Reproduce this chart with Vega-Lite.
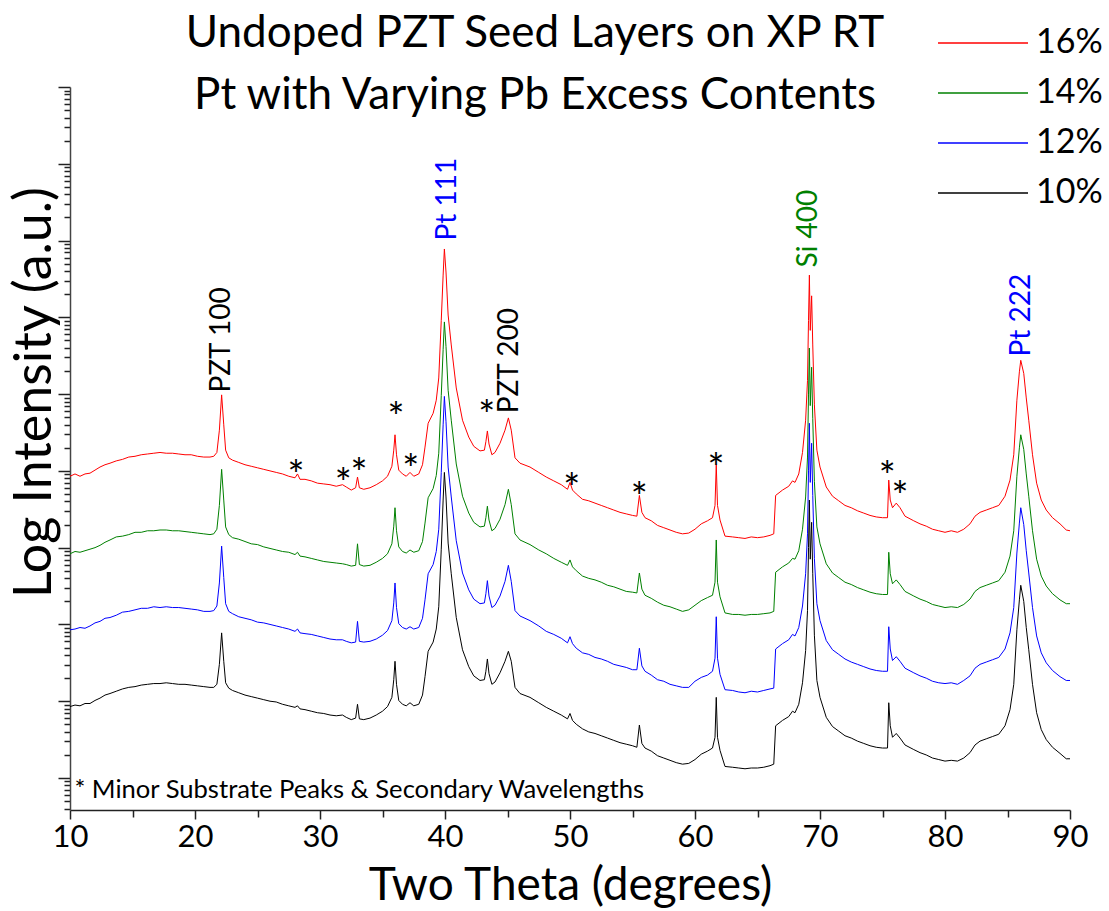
{
"$schema":"https://vega.github.io/schema/vega-lite/v6.json",
"autosize":{"type":"none"},
"padding":{"left":70,"top":87,"right":39,"bottom":101},
"width":1000,"height":723,
"background":"white",
"config":{"font":"Lato","view":{"stroke":null},"axis":{"grid":false,"labelColor":"black","titleColor":"black","titleFontWeight":"normal"}},
"title":{"text":["Undoped PZT Seed Layers on XP RT","Pt with Varying Pb Excess Contents"],"frame":"group","anchor":"middle","dx":-35,"offset":-106,"fontSize":44,"fontWeight":"normal","font":"Lato","color":"black","lineHeight":62},
"datasets":{
"peaks":[
{"label":"PZT 100","phase":"PZT","angle":22.13,"logI":6.02},
{"label":"Pt 111","phase":"Pt","angle":40.2,"logI":8.0},
{"label":"PZT 200","phase":"PZT","angle":45.2,"logI":5.75},
{"label":"Si 400","phase":"Si","angle":69.1,"logI":7.65},
{"label":"Pt 222","phase":"Pt","angle":86.13,"logI":6.49}],
"stars":[
{"label":"*","angle":28.08,"logI":5.05},
{"label":"*","angle":31.86,"logI":4.95},
{"label":"*","angle":33.12,"logI":5.08},
{"label":"*","angle":36.08,"logI":5.8},
{"label":"*","angle":37.26,"logI":5.13},
{"label":"*","angle":43.34,"logI":5.83},
{"label":"*","angle":50.14,"logI":4.88},
{"label":"*","angle":55.54,"logI":4.77},
{"label":"*","angle":61.68,"logI":5.14},
{"label":"*","angle":75.38,"logI":5.04},
{"label":"*","angle":76.4,"logI":4.78}],
"note":[{"label":"* Minor Substrate Peaks & Secondary Wavelengths","angle":10.35,"logI":0.85}],
"xrd":[
{"series":"16%","angle":10,"logI":4.93},{"series":"16%","angle":10.4,"logI":4.96},{"series":"16%","angle":10.8,"logI":4.93},{"series":"16%","angle":11.2,"logI":4.96},{"series":"16%","angle":11.6,"logI":4.97},{"series":"16%","angle":12,"logI":5.01},{"series":"16%","angle":12.4,"logI":5.05},{"series":"16%","angle":12.8,"logI":5.08},{"series":"16%","angle":13.2,"logI":5.1},{"series":"16%","angle":13.7,"logI":5.13},{"series":"16%","angle":14.2,"logI":5.15},{"series":"16%","angle":14.7,"logI":5.18},{"series":"16%","angle":15.2,"logI":5.19},{"series":"16%","angle":15.7,"logI":5.21},{"series":"16%","angle":16.2,"logI":5.22},{"series":"16%","angle":16.7,"logI":5.23},{"series":"16%","angle":17.2,"logI":5.24},{"series":"16%","angle":17.7,"logI":5.23},{"series":"16%","angle":18.2,"logI":5.23},{"series":"16%","angle":18.7,"logI":5.22},{"series":"16%","angle":19.2,"logI":5.21},{"series":"16%","angle":19.7,"logI":5.21},{"series":"16%","angle":20.2,"logI":5.19},{"series":"16%","angle":20.7,"logI":5.18},{"series":"16%","angle":21.2,"logI":5.18},{"series":"16%","angle":21.5,"logI":5.19},{"series":"16%","angle":21.75,"logI":5.24},{"series":"16%","angle":21.95,"logI":5.53},{"series":"16%","angle":22.13,"logI":5.99},{"series":"16%","angle":22.3,"logI":5.6},{"series":"16%","angle":22.45,"logI":5.27},{"series":"16%","angle":22.7,"logI":5.17},{"series":"16%","angle":23,"logI":5.14},{"series":"16%","angle":23.5,"logI":5.11},{"series":"16%","angle":24,"logI":5.08},{"series":"16%","angle":24.5,"logI":5.06},{"series":"16%","angle":25,"logI":5.04},{"series":"16%","angle":25.5,"logI":5.02},{"series":"16%","angle":26,"logI":5.0},{"series":"16%","angle":26.5,"logI":4.98},{"series":"16%","angle":27,"logI":4.96},{"series":"16%","angle":27.5,"logI":4.93},{"series":"16%","angle":28,"logI":4.91},{"series":"16%","angle":28.2,"logI":4.96},{"series":"16%","angle":28.4,"logI":4.89},{"series":"16%","angle":28.8,"logI":4.89},{"series":"16%","angle":29.3,"logI":4.87},{"series":"16%","angle":29.8,"logI":4.84},{"series":"16%","angle":30.3,"logI":4.83},{"series":"16%","angle":30.8,"logI":4.82},{"series":"16%","angle":31.3,"logI":4.8},{"series":"16%","angle":31.8,"logI":4.82},{"series":"16%","angle":32.1,"logI":4.79},{"series":"16%","angle":32.5,"logI":4.75},{"series":"16%","angle":32.85,"logI":4.78},{"series":"16%","angle":33,"logI":4.92},{"series":"16%","angle":33.15,"logI":4.78},{"series":"16%","angle":33.5,"logI":4.76},{"series":"16%","angle":34,"logI":4.78},{"series":"16%","angle":34.5,"logI":4.82},{"series":"16%","angle":35,"logI":4.87},{"series":"16%","angle":35.4,"logI":4.93},{"series":"16%","angle":35.75,"logI":5.06},{"series":"16%","angle":35.9,"logI":5.27},{"series":"16%","angle":36,"logI":5.47},{"series":"16%","angle":36.12,"logI":5.21},{"series":"16%","angle":36.3,"logI":5.01},{"series":"16%","angle":36.6,"logI":4.96},{"series":"16%","angle":36.9,"logI":4.93},{"series":"16%","angle":37.2,"logI":4.98},{"series":"16%","angle":37.5,"logI":4.93},{"series":"16%","angle":37.9,"logI":4.96},{"series":"16%","angle":38.2,"logI":5.08},{"series":"16%","angle":38.4,"logI":5.31},{"series":"16%","angle":38.65,"logI":5.62},{"series":"16%","angle":39.05,"logI":5.75},{"series":"16%","angle":39.3,"logI":5.92},{"series":"16%","angle":39.5,"logI":6.21},{"series":"16%","angle":39.7,"logI":6.96},{"series":"16%","angle":39.85,"logI":7.55},{"series":"16%","angle":39.95,"logI":7.89},{"series":"16%","angle":40.08,"logI":7.59},{"series":"16%","angle":40.25,"logI":7.03},{"series":"16%","angle":40.5,"logI":6.64},{"series":"16%","angle":40.9,"logI":6.08},{"series":"16%","angle":41.4,"logI":5.66},{"series":"16%","angle":41.9,"logI":5.44},{"series":"16%","angle":42.3,"logI":5.32},{"series":"16%","angle":42.8,"logI":5.26},{"series":"16%","angle":43.15,"logI":5.27},{"series":"16%","angle":43.27,"logI":5.38},{"series":"16%","angle":43.39,"logI":5.52},{"series":"16%","angle":43.52,"logI":5.35},{"series":"16%","angle":43.75,"logI":5.21},{"series":"16%","angle":44,"logI":5.24},{"series":"16%","angle":44.4,"logI":5.36},{"series":"16%","angle":44.8,"logI":5.53},{"series":"16%","angle":45.07,"logI":5.69},{"series":"16%","angle":45.3,"logI":5.53},{"series":"16%","angle":45.6,"logI":5.17},{"series":"16%","angle":46,"logI":5.1},{"series":"16%","angle":46.8,"logI":5.05},{"series":"16%","angle":47.5,"logI":4.98},{"series":"16%","angle":48.1,"logI":4.92},{"series":"16%","angle":48.7,"logI":4.87},{"series":"16%","angle":49.3,"logI":4.82},{"series":"16%","angle":49.8,"logI":4.76},{"series":"16%","angle":50,"logI":4.85},{"series":"16%","angle":50.2,"logI":4.75},{"series":"16%","angle":50.5,"logI":4.7},{"series":"16%","angle":51,"logI":4.63},{"series":"16%","angle":51.5,"logI":4.61},{"series":"16%","angle":52,"logI":4.58},{"series":"16%","angle":52.5,"logI":4.55},{"series":"16%","angle":53,"logI":4.52},{"series":"16%","angle":53.5,"logI":4.49},{"series":"16%","angle":54,"logI":4.46},{"series":"16%","angle":54.5,"logI":4.44},{"series":"16%","angle":55,"logI":4.42},{"series":"16%","angle":55.35,"logI":4.41},{"series":"16%","angle":55.55,"logI":4.68},{"series":"16%","angle":55.75,"logI":4.46},{"series":"16%","angle":56,"logI":4.39},{"series":"16%","angle":56.5,"logI":4.35},{"series":"16%","angle":57,"logI":4.29},{"series":"16%","angle":57.5,"logI":4.26},{"series":"16%","angle":58,"logI":4.23},{"series":"16%","angle":58.5,"logI":4.2},{"series":"16%","angle":59,"logI":4.18},{"series":"16%","angle":59.5,"logI":4.19},{"series":"16%","angle":60,"logI":4.24},{"series":"16%","angle":60.5,"logI":4.31},{"series":"16%","angle":61,"logI":4.35},{"series":"16%","angle":61.4,"logI":4.39},{"series":"16%","angle":61.6,"logI":4.55},{"series":"16%","angle":61.7,"logI":5.08},{"series":"16%","angle":61.8,"logI":4.55},{"series":"16%","angle":62,"logI":4.36},{"series":"16%","angle":62.4,"logI":4.15},{"series":"16%","angle":63,"logI":4.14},{"series":"16%","angle":63.5,"logI":4.13},{"series":"16%","angle":64,"logI":4.12},{"series":"16%","angle":64.5,"logI":4.14},{"series":"16%","angle":65,"logI":4.13},{"series":"16%","angle":65.5,"logI":4.14},{"series":"16%","angle":66,"logI":4.16},{"series":"16%","angle":66.3,"logI":4.18},{"series":"16%","angle":66.45,"logI":4.68},{"series":"16%","angle":67,"logI":4.75},{"series":"16%","angle":67.5,"logI":4.8},{"series":"16%","angle":67.8,"logI":4.87},{"series":"16%","angle":68,"logI":4.85},{"series":"16%","angle":68.3,"logI":4.96},{"series":"16%","angle":68.6,"logI":5.24},{"series":"16%","angle":68.85,"logI":5.66},{"series":"16%","angle":69,"logI":6.18},{"series":"16%","angle":69.08,"logI":6.96},{"series":"16%","angle":69.15,"logI":7.55},{"series":"16%","angle":69.22,"logI":6.83},{"series":"16%","angle":69.33,"logI":7.28},{"series":"16%","angle":69.42,"logI":6.64},{"series":"16%","angle":69.55,"logI":5.86},{"series":"16%","angle":69.75,"logI":5.27},{"series":"16%","angle":70,"logI":5.05},{"series":"16%","angle":70.5,"logI":4.79},{"series":"16%","angle":71,"logI":4.67},{"series":"16%","angle":71.5,"logI":4.61},{"series":"16%","angle":72,"logI":4.55},{"series":"16%","angle":72.5,"logI":4.52},{"series":"16%","angle":73,"logI":4.48},{"series":"16%","angle":73.5,"logI":4.45},{"series":"16%","angle":74,"logI":4.42},{"series":"16%","angle":74.5,"logI":4.4},{"series":"16%","angle":75,"logI":4.39},{"series":"16%","angle":75.4,"logI":4.39},{"series":"16%","angle":75.5,"logI":4.88},{"series":"16%","angle":75.62,"logI":4.62},{"series":"16%","angle":75.8,"logI":4.52},{"series":"16%","angle":76.1,"logI":4.58},{"series":"16%","angle":76.4,"logI":4.52},{"series":"16%","angle":76.8,"logI":4.41},{"series":"16%","angle":77.5,"logI":4.35},{"series":"16%","angle":78,"logI":4.31},{"series":"16%","angle":78.5,"logI":4.28},{"series":"16%","angle":79,"logI":4.24},{"series":"16%","angle":79.5,"logI":4.22},{"series":"16%","angle":80,"logI":4.2},{"series":"16%","angle":80.5,"logI":4.22},{"series":"16%","angle":81,"logI":4.2},{"series":"16%","angle":81.5,"logI":4.24},{"series":"16%","angle":82,"logI":4.31},{"series":"16%","angle":82.4,"logI":4.41},{"series":"16%","angle":82.8,"logI":4.46},{"series":"16%","angle":83.3,"logI":4.49},{"series":"16%","angle":83.8,"logI":4.52},{"series":"16%","angle":84.3,"logI":4.55},{"series":"16%","angle":84.8,"logI":4.67},{"series":"16%","angle":85.2,"logI":4.88},{"series":"16%","angle":85.5,"logI":5.21},{"series":"16%","angle":85.75,"logI":5.92},{"series":"16%","angle":85.95,"logI":6.29},{"series":"16%","angle":86.06,"logI":6.44},{"series":"16%","angle":86.3,"logI":6.27},{"series":"16%","angle":86.5,"logI":5.95},{"series":"16%","angle":86.7,"logI":5.66},{"series":"16%","angle":87,"logI":5.21},{"series":"16%","angle":87.33,"logI":4.84},{"series":"16%","angle":87.7,"logI":4.62},{"series":"16%","angle":88.1,"logI":4.49},{"series":"16%","angle":88.6,"logI":4.39},{"series":"16%","angle":89.2,"logI":4.31},{"series":"16%","angle":89.7,"logI":4.23},{"series":"16%","angle":90,"logI":4.22},
{"series":"14%","angle":10,"logI":3.92},{"series":"14%","angle":10.4,"logI":3.95},{"series":"14%","angle":10.8,"logI":3.94},{"series":"14%","angle":11.2,"logI":3.96},{"series":"14%","angle":11.6,"logI":3.98},{"series":"14%","angle":12,"logI":4.0},{"series":"14%","angle":12.4,"logI":4.03},{"series":"14%","angle":12.8,"logI":4.07},{"series":"14%","angle":13.2,"logI":4.1},{"series":"14%","angle":13.7,"logI":4.14},{"series":"14%","angle":14.2,"logI":4.15},{"series":"14%","angle":14.7,"logI":4.17},{"series":"14%","angle":15.2,"logI":4.2},{"series":"14%","angle":15.7,"logI":4.2},{"series":"14%","angle":16.2,"logI":4.22},{"series":"14%","angle":16.7,"logI":4.22},{"series":"14%","angle":17.2,"logI":4.23},{"series":"14%","angle":17.7,"logI":4.23},{"series":"14%","angle":18.2,"logI":4.22},{"series":"14%","angle":18.7,"logI":4.22},{"series":"14%","angle":19.2,"logI":4.21},{"series":"14%","angle":19.7,"logI":4.2},{"series":"14%","angle":20.2,"logI":4.19},{"series":"14%","angle":20.7,"logI":4.18},{"series":"14%","angle":21.2,"logI":4.17},{"series":"14%","angle":21.5,"logI":4.18},{"series":"14%","angle":21.75,"logI":4.24},{"series":"14%","angle":21.95,"logI":4.55},{"series":"14%","angle":22.13,"logI":5.02},{"series":"14%","angle":22.3,"logI":4.62},{"series":"14%","angle":22.45,"logI":4.27},{"series":"14%","angle":22.7,"logI":4.17},{"series":"14%","angle":23,"logI":4.13},{"series":"14%","angle":23.5,"logI":4.11},{"series":"14%","angle":24,"logI":4.08},{"series":"14%","angle":24.5,"logI":4.05},{"series":"14%","angle":25,"logI":4.04},{"series":"14%","angle":25.5,"logI":4.01},{"series":"14%","angle":26,"logI":3.99},{"series":"14%","angle":26.5,"logI":3.97},{"series":"14%","angle":27,"logI":3.95},{"series":"14%","angle":27.5,"logI":3.94},{"series":"14%","angle":28,"logI":3.91},{"series":"14%","angle":28.2,"logI":3.94},{"series":"14%","angle":28.4,"logI":3.89},{"series":"14%","angle":28.8,"logI":3.88},{"series":"14%","angle":29.3,"logI":3.86},{"series":"14%","angle":29.8,"logI":3.84},{"series":"14%","angle":30.3,"logI":3.82},{"series":"14%","angle":30.8,"logI":3.81},{"series":"14%","angle":31.3,"logI":3.8},{"series":"14%","angle":31.8,"logI":3.79},{"series":"14%","angle":32.1,"logI":3.78},{"series":"14%","angle":32.5,"logI":3.76},{"series":"14%","angle":32.85,"logI":3.77},{"series":"14%","angle":33,"logI":4.05},{"series":"14%","angle":33.15,"logI":3.78},{"series":"14%","angle":33.5,"logI":3.76},{"series":"14%","angle":34,"logI":3.77},{"series":"14%","angle":34.5,"logI":3.81},{"series":"14%","angle":35,"logI":3.86},{"series":"14%","angle":35.4,"logI":3.92},{"series":"14%","angle":35.75,"logI":4.05},{"series":"14%","angle":35.9,"logI":4.28},{"series":"14%","angle":36,"logI":4.52},{"series":"14%","angle":36.12,"logI":4.22},{"series":"14%","angle":36.3,"logI":4.01},{"series":"14%","angle":36.6,"logI":3.95},{"series":"14%","angle":36.9,"logI":3.93},{"series":"14%","angle":37.2,"logI":3.97},{"series":"14%","angle":37.5,"logI":3.94},{"series":"14%","angle":37.9,"logI":3.96},{"series":"14%","angle":38.2,"logI":4.08},{"series":"14%","angle":38.4,"logI":4.32},{"series":"14%","angle":38.65,"logI":4.65},{"series":"14%","angle":39.05,"logI":4.77},{"series":"14%","angle":39.3,"logI":4.94},{"series":"14%","angle":39.5,"logI":5.23},{"series":"14%","angle":39.7,"logI":5.98},{"series":"14%","angle":39.85,"logI":6.58},{"series":"14%","angle":39.95,"logI":6.94},{"series":"14%","angle":40.08,"logI":6.62},{"series":"14%","angle":40.25,"logI":6.05},{"series":"14%","angle":40.5,"logI":5.66},{"series":"14%","angle":40.9,"logI":5.09},{"series":"14%","angle":41.4,"logI":4.67},{"series":"14%","angle":41.9,"logI":4.45},{"series":"14%","angle":42.3,"logI":4.33},{"series":"14%","angle":42.8,"logI":4.27},{"series":"14%","angle":43.15,"logI":4.28},{"series":"14%","angle":43.27,"logI":4.39},{"series":"14%","angle":43.39,"logI":4.54},{"series":"14%","angle":43.52,"logI":4.36},{"series":"14%","angle":43.75,"logI":4.22},{"series":"14%","angle":44,"logI":4.25},{"series":"14%","angle":44.4,"logI":4.37},{"series":"14%","angle":44.8,"logI":4.56},{"series":"14%","angle":45.07,"logI":4.76},{"series":"14%","angle":45.3,"logI":4.56},{"series":"14%","angle":45.6,"logI":4.18},{"series":"14%","angle":46,"logI":4.1},{"series":"14%","angle":46.8,"logI":4.04},{"series":"14%","angle":47.5,"logI":3.97},{"series":"14%","angle":48.1,"logI":3.92},{"series":"14%","angle":48.7,"logI":3.86},{"series":"14%","angle":49.3,"logI":3.81},{"series":"14%","angle":49.8,"logI":3.77},{"series":"14%","angle":50,"logI":3.84},{"series":"14%","angle":50.2,"logI":3.75},{"series":"14%","angle":50.5,"logI":3.7},{"series":"14%","angle":51,"logI":3.63},{"series":"14%","angle":51.5,"logI":3.6},{"series":"14%","angle":52,"logI":3.58},{"series":"14%","angle":52.5,"logI":3.55},{"series":"14%","angle":53,"logI":3.51},{"series":"14%","angle":53.5,"logI":3.49},{"series":"14%","angle":54,"logI":3.46},{"series":"14%","angle":54.5,"logI":3.43},{"series":"14%","angle":55,"logI":3.42},{"series":"14%","angle":55.35,"logI":3.41},{"series":"14%","angle":55.55,"logI":3.67},{"series":"14%","angle":55.75,"logI":3.46},{"series":"14%","angle":56,"logI":3.38},{"series":"14%","angle":56.5,"logI":3.34},{"series":"14%","angle":57,"logI":3.29},{"series":"14%","angle":57.5,"logI":3.25},{"series":"14%","angle":58,"logI":3.23},{"series":"14%","angle":58.5,"logI":3.2},{"series":"14%","angle":59,"logI":3.17},{"series":"14%","angle":59.5,"logI":3.19},{"series":"14%","angle":60,"logI":3.25},{"series":"14%","angle":60.5,"logI":3.31},{"series":"14%","angle":61,"logI":3.35},{"series":"14%","angle":61.4,"logI":3.38},{"series":"14%","angle":61.6,"logI":3.55},{"series":"14%","angle":61.7,"logI":4.1},{"series":"14%","angle":61.8,"logI":3.55},{"series":"14%","angle":62,"logI":3.36},{"series":"14%","angle":62.4,"logI":3.15},{"series":"14%","angle":63,"logI":3.13},{"series":"14%","angle":63.5,"logI":3.13},{"series":"14%","angle":64,"logI":3.12},{"series":"14%","angle":64.5,"logI":3.13},{"series":"14%","angle":65,"logI":3.13},{"series":"14%","angle":65.5,"logI":3.14},{"series":"14%","angle":66,"logI":3.15},{"series":"14%","angle":66.3,"logI":3.17},{"series":"14%","angle":66.45,"logI":3.68},{"series":"14%","angle":67,"logI":3.75},{"series":"14%","angle":67.5,"logI":3.8},{"series":"14%","angle":67.8,"logI":3.86},{"series":"14%","angle":68,"logI":3.85},{"series":"14%","angle":68.3,"logI":3.96},{"series":"14%","angle":68.6,"logI":4.24},{"series":"14%","angle":68.85,"logI":4.66},{"series":"14%","angle":69,"logI":5.18},{"series":"14%","angle":69.08,"logI":6.0},{"series":"14%","angle":69.15,"logI":6.6},{"series":"14%","angle":69.22,"logI":5.85},{"series":"14%","angle":69.33,"logI":6.35},{"series":"14%","angle":69.42,"logI":5.68},{"series":"14%","angle":69.55,"logI":4.86},{"series":"14%","angle":69.75,"logI":4.27},{"series":"14%","angle":70,"logI":4.05},{"series":"14%","angle":70.5,"logI":3.79},{"series":"14%","angle":71,"logI":3.67},{"series":"14%","angle":71.5,"logI":3.61},{"series":"14%","angle":72,"logI":3.55},{"series":"14%","angle":72.5,"logI":3.52},{"series":"14%","angle":73,"logI":3.48},{"series":"14%","angle":73.5,"logI":3.45},{"series":"14%","angle":74,"logI":3.42},{"series":"14%","angle":74.5,"logI":3.4},{"series":"14%","angle":75,"logI":3.39},{"series":"14%","angle":75.4,"logI":3.39},{"series":"14%","angle":75.5,"logI":3.94},{"series":"14%","angle":75.62,"logI":3.66},{"series":"14%","angle":75.8,"logI":3.53},{"series":"14%","angle":76.1,"logI":3.58},{"series":"14%","angle":76.4,"logI":3.52},{"series":"14%","angle":76.8,"logI":3.43},{"series":"14%","angle":77.5,"logI":3.37},{"series":"14%","angle":78,"logI":3.33},{"series":"14%","angle":78.5,"logI":3.3},{"series":"14%","angle":79,"logI":3.26},{"series":"14%","angle":79.5,"logI":3.24},{"series":"14%","angle":80,"logI":3.22},{"series":"14%","angle":80.5,"logI":3.23},{"series":"14%","angle":81,"logI":3.22},{"series":"14%","angle":81.5,"logI":3.26},{"series":"14%","angle":82,"logI":3.33},{"series":"14%","angle":82.4,"logI":3.43},{"series":"14%","angle":82.8,"logI":3.48},{"series":"14%","angle":83.3,"logI":3.51},{"series":"14%","angle":83.8,"logI":3.54},{"series":"14%","angle":84.3,"logI":3.57},{"series":"14%","angle":84.8,"logI":3.68},{"series":"14%","angle":85.2,"logI":3.89},{"series":"14%","angle":85.5,"logI":4.22},{"series":"14%","angle":85.75,"logI":4.93},{"series":"14%","angle":85.95,"logI":5.3},{"series":"14%","angle":86.06,"logI":5.47},{"series":"14%","angle":86.3,"logI":5.28},{"series":"14%","angle":86.5,"logI":4.96},{"series":"14%","angle":86.7,"logI":4.67},{"series":"14%","angle":87,"logI":4.22},{"series":"14%","angle":87.33,"logI":3.85},{"series":"14%","angle":87.7,"logI":3.63},{"series":"14%","angle":88.1,"logI":3.5},{"series":"14%","angle":88.6,"logI":3.4},{"series":"14%","angle":89.2,"logI":3.32},{"series":"14%","angle":89.7,"logI":3.27},{"series":"14%","angle":90,"logI":3.27},
{"series":"12%","angle":10,"logI":2.93},{"series":"12%","angle":10.4,"logI":2.94},{"series":"12%","angle":10.8,"logI":2.96},{"series":"12%","angle":11.2,"logI":2.95},{"series":"12%","angle":11.6,"logI":2.98},{"series":"12%","angle":12,"logI":3.02},{"series":"12%","angle":12.4,"logI":3.04},{"series":"12%","angle":12.8,"logI":3.08},{"series":"12%","angle":13.2,"logI":3.09},{"series":"12%","angle":13.7,"logI":3.12},{"series":"12%","angle":14.2,"logI":3.16},{"series":"12%","angle":14.7,"logI":3.17},{"series":"12%","angle":15.2,"logI":3.19},{"series":"12%","angle":15.7,"logI":3.21},{"series":"12%","angle":16.2,"logI":3.21},{"series":"12%","angle":16.7,"logI":3.23},{"series":"12%","angle":17.2,"logI":3.22},{"series":"12%","angle":17.7,"logI":3.23},{"series":"12%","angle":18.2,"logI":3.22},{"series":"12%","angle":18.7,"logI":3.22},{"series":"12%","angle":19.2,"logI":3.21},{"series":"12%","angle":19.7,"logI":3.2},{"series":"12%","angle":20.2,"logI":3.19},{"series":"12%","angle":20.7,"logI":3.17},{"series":"12%","angle":21.2,"logI":3.17},{"series":"12%","angle":21.5,"logI":3.18},{"series":"12%","angle":21.75,"logI":3.24},{"series":"12%","angle":21.95,"logI":3.54},{"series":"12%","angle":22.13,"logI":4.02},{"series":"12%","angle":22.3,"logI":3.61},{"series":"12%","angle":22.45,"logI":3.27},{"series":"12%","angle":22.7,"logI":3.17},{"series":"12%","angle":23,"logI":3.14},{"series":"12%","angle":23.5,"logI":3.1},{"series":"12%","angle":24,"logI":3.08},{"series":"12%","angle":24.5,"logI":3.06},{"series":"12%","angle":25,"logI":3.03},{"series":"12%","angle":25.5,"logI":3.02},{"series":"12%","angle":26,"logI":3.0},{"series":"12%","angle":26.5,"logI":2.98},{"series":"12%","angle":27,"logI":2.96},{"series":"12%","angle":27.5,"logI":2.94},{"series":"12%","angle":28,"logI":2.91},{"series":"12%","angle":28.2,"logI":2.94},{"series":"12%","angle":28.4,"logI":2.89},{"series":"12%","angle":28.8,"logI":2.88},{"series":"12%","angle":29.3,"logI":2.87},{"series":"12%","angle":29.8,"logI":2.85},{"series":"12%","angle":30.3,"logI":2.83},{"series":"12%","angle":30.8,"logI":2.81},{"series":"12%","angle":31.3,"logI":2.8},{"series":"12%","angle":31.8,"logI":2.8},{"series":"12%","angle":32.1,"logI":2.78},{"series":"12%","angle":32.5,"logI":2.76},{"series":"12%","angle":32.85,"logI":2.77},{"series":"12%","angle":33,"logI":3.04},{"series":"12%","angle":33.15,"logI":2.78},{"series":"12%","angle":33.5,"logI":2.77},{"series":"12%","angle":34,"logI":2.78},{"series":"12%","angle":34.5,"logI":2.81},{"series":"12%","angle":35,"logI":2.86},{"series":"12%","angle":35.4,"logI":2.92},{"series":"12%","angle":35.75,"logI":3.05},{"series":"12%","angle":35.9,"logI":3.28},{"series":"12%","angle":36,"logI":3.54},{"series":"12%","angle":36.12,"logI":3.22},{"series":"12%","angle":36.3,"logI":3.01},{"series":"12%","angle":36.6,"logI":2.96},{"series":"12%","angle":36.9,"logI":2.94},{"series":"12%","angle":37.2,"logI":2.97},{"series":"12%","angle":37.5,"logI":2.94},{"series":"12%","angle":37.9,"logI":2.96},{"series":"12%","angle":38.2,"logI":3.08},{"series":"12%","angle":38.4,"logI":3.32},{"series":"12%","angle":38.65,"logI":3.66},{"series":"12%","angle":39.05,"logI":3.78},{"series":"12%","angle":39.3,"logI":3.95},{"series":"12%","angle":39.5,"logI":4.24},{"series":"12%","angle":39.7,"logI":4.98},{"series":"12%","angle":39.85,"logI":5.6},{"series":"12%","angle":39.95,"logI":5.97},{"series":"12%","angle":40.08,"logI":5.64},{"series":"12%","angle":40.25,"logI":5.05},{"series":"12%","angle":40.5,"logI":4.66},{"series":"12%","angle":40.9,"logI":4.09},{"series":"12%","angle":41.4,"logI":3.67},{"series":"12%","angle":41.9,"logI":3.45},{"series":"12%","angle":42.3,"logI":3.33},{"series":"12%","angle":42.8,"logI":3.27},{"series":"12%","angle":43.15,"logI":3.28},{"series":"12%","angle":43.27,"logI":3.4},{"series":"12%","angle":43.39,"logI":3.57},{"series":"12%","angle":43.52,"logI":3.37},{"series":"12%","angle":43.75,"logI":3.22},{"series":"12%","angle":44,"logI":3.25},{"series":"12%","angle":44.4,"logI":3.37},{"series":"12%","angle":44.8,"logI":3.56},{"series":"12%","angle":45.07,"logI":3.77},{"series":"12%","angle":45.3,"logI":3.56},{"series":"12%","angle":45.6,"logI":3.18},{"series":"12%","angle":46,"logI":3.11},{"series":"12%","angle":46.8,"logI":3.05},{"series":"12%","angle":47.5,"logI":2.98},{"series":"12%","angle":48.1,"logI":2.91},{"series":"12%","angle":48.7,"logI":2.87},{"series":"12%","angle":49.3,"logI":2.82},{"series":"12%","angle":49.8,"logI":2.76},{"series":"12%","angle":50,"logI":2.84},{"series":"12%","angle":50.2,"logI":2.75},{"series":"12%","angle":50.5,"logI":2.69},{"series":"12%","angle":51,"logI":2.63},{"series":"12%","angle":51.5,"logI":2.61},{"series":"12%","angle":52,"logI":2.57},{"series":"12%","angle":52.5,"logI":2.55},{"series":"12%","angle":53,"logI":2.52},{"series":"12%","angle":53.5,"logI":2.48},{"series":"12%","angle":54,"logI":2.46},{"series":"12%","angle":54.5,"logI":2.44},{"series":"12%","angle":55,"logI":2.41},{"series":"12%","angle":55.35,"logI":2.41},{"series":"12%","angle":55.55,"logI":2.69},{"series":"12%","angle":55.75,"logI":2.46},{"series":"12%","angle":56,"logI":2.39},{"series":"12%","angle":56.5,"logI":2.34},{"series":"12%","angle":57,"logI":2.28},{"series":"12%","angle":57.5,"logI":2.26},{"series":"12%","angle":58,"logI":2.22},{"series":"12%","angle":58.5,"logI":2.2},{"series":"12%","angle":59,"logI":2.18},{"series":"12%","angle":59.5,"logI":2.18},{"series":"12%","angle":60,"logI":2.26},{"series":"12%","angle":60.5,"logI":2.31},{"series":"12%","angle":61,"logI":2.34},{"series":"12%","angle":61.4,"logI":2.39},{"series":"12%","angle":61.6,"logI":2.56},{"series":"12%","angle":61.7,"logI":3.1},{"series":"12%","angle":61.8,"logI":2.56},{"series":"12%","angle":62,"logI":2.35},{"series":"12%","angle":62.4,"logI":2.15},{"series":"12%","angle":63,"logI":2.14},{"series":"12%","angle":63.5,"logI":2.12},{"series":"12%","angle":64,"logI":2.11},{"series":"12%","angle":64.5,"logI":2.13},{"series":"12%","angle":65,"logI":2.12},{"series":"12%","angle":65.5,"logI":2.14},{"series":"12%","angle":66,"logI":2.16},{"series":"12%","angle":66.3,"logI":2.17},{"series":"12%","angle":66.45,"logI":2.68},{"series":"12%","angle":67,"logI":2.75},{"series":"12%","angle":67.5,"logI":2.8},{"series":"12%","angle":67.8,"logI":2.87},{"series":"12%","angle":68,"logI":2.85},{"series":"12%","angle":68.3,"logI":2.96},{"series":"12%","angle":68.6,"logI":3.24},{"series":"12%","angle":68.85,"logI":3.66},{"series":"12%","angle":69,"logI":4.18},{"series":"12%","angle":69.08,"logI":5.0},{"series":"12%","angle":69.15,"logI":5.62},{"series":"12%","angle":69.22,"logI":4.85},{"series":"12%","angle":69.33,"logI":5.36},{"series":"12%","angle":69.42,"logI":4.68},{"series":"12%","angle":69.55,"logI":3.86},{"series":"12%","angle":69.75,"logI":3.27},{"series":"12%","angle":70,"logI":3.05},{"series":"12%","angle":70.5,"logI":2.79},{"series":"12%","angle":71,"logI":2.67},{"series":"12%","angle":71.5,"logI":2.61},{"series":"12%","angle":72,"logI":2.55},{"series":"12%","angle":72.5,"logI":2.51},{"series":"12%","angle":73,"logI":2.48},{"series":"12%","angle":73.5,"logI":2.45},{"series":"12%","angle":74,"logI":2.42},{"series":"12%","angle":74.5,"logI":2.4},{"series":"12%","angle":75,"logI":2.39},{"series":"12%","angle":75.4,"logI":2.39},{"series":"12%","angle":75.5,"logI":2.97},{"series":"12%","angle":75.62,"logI":2.68},{"series":"12%","angle":75.8,"logI":2.53},{"series":"12%","angle":76.1,"logI":2.58},{"series":"12%","angle":76.4,"logI":2.52},{"series":"12%","angle":76.8,"logI":2.43},{"series":"12%","angle":77.5,"logI":2.37},{"series":"12%","angle":78,"logI":2.33},{"series":"12%","angle":78.5,"logI":2.3},{"series":"12%","angle":79,"logI":2.26},{"series":"12%","angle":79.5,"logI":2.24},{"series":"12%","angle":80,"logI":2.23},{"series":"12%","angle":80.5,"logI":2.24},{"series":"12%","angle":81,"logI":2.22},{"series":"12%","angle":81.5,"logI":2.27},{"series":"12%","angle":82,"logI":2.33},{"series":"12%","angle":82.4,"logI":2.43},{"series":"12%","angle":82.8,"logI":2.48},{"series":"12%","angle":83.3,"logI":2.51},{"series":"12%","angle":83.8,"logI":2.54},{"series":"12%","angle":84.3,"logI":2.57},{"series":"12%","angle":84.8,"logI":2.68},{"series":"12%","angle":85.2,"logI":2.89},{"series":"12%","angle":85.5,"logI":3.22},{"series":"12%","angle":85.75,"logI":3.93},{"series":"12%","angle":85.95,"logI":4.32},{"series":"12%","angle":86.06,"logI":4.52},{"series":"12%","angle":86.3,"logI":4.3},{"series":"12%","angle":86.5,"logI":3.96},{"series":"12%","angle":86.7,"logI":3.67},{"series":"12%","angle":87,"logI":3.22},{"series":"12%","angle":87.33,"logI":2.85},{"series":"12%","angle":87.7,"logI":2.63},{"series":"12%","angle":88.1,"logI":2.5},{"series":"12%","angle":88.6,"logI":2.4},{"series":"12%","angle":89.2,"logI":2.32},{"series":"12%","angle":89.7,"logI":2.27},{"series":"12%","angle":90,"logI":2.27},
{"series":"10%","angle":10,"logI":1.93},{"series":"10%","angle":10.4,"logI":1.95},{"series":"10%","angle":10.8,"logI":1.94},{"series":"10%","angle":11.2,"logI":1.97},{"series":"10%","angle":11.6,"logI":1.97},{"series":"10%","angle":12,"logI":2.01},{"series":"10%","angle":12.4,"logI":2.04},{"series":"10%","angle":12.8,"logI":2.08},{"series":"10%","angle":13.2,"logI":2.1},{"series":"10%","angle":13.7,"logI":2.13},{"series":"10%","angle":14.2,"logI":2.16},{"series":"10%","angle":14.7,"logI":2.18},{"series":"10%","angle":15.2,"logI":2.19},{"series":"10%","angle":15.7,"logI":2.21},{"series":"10%","angle":16.2,"logI":2.22},{"series":"10%","angle":16.7,"logI":2.23},{"series":"10%","angle":17.2,"logI":2.23},{"series":"10%","angle":17.7,"logI":2.24},{"series":"10%","angle":18.2,"logI":2.23},{"series":"10%","angle":18.7,"logI":2.22},{"series":"10%","angle":19.2,"logI":2.22},{"series":"10%","angle":19.7,"logI":2.21},{"series":"10%","angle":20.2,"logI":2.2},{"series":"10%","angle":20.7,"logI":2.19},{"series":"10%","angle":21.2,"logI":2.18},{"series":"10%","angle":21.5,"logI":2.18},{"series":"10%","angle":21.75,"logI":2.22},{"series":"10%","angle":21.95,"logI":2.48},{"series":"10%","angle":22.13,"logI":2.89},{"series":"10%","angle":22.3,"logI":2.52},{"series":"10%","angle":22.45,"logI":2.24},{"series":"10%","angle":22.7,"logI":2.17},{"series":"10%","angle":23,"logI":2.14},{"series":"10%","angle":23.5,"logI":2.11},{"series":"10%","angle":24,"logI":2.08},{"series":"10%","angle":24.5,"logI":2.06},{"series":"10%","angle":25,"logI":2.04},{"series":"10%","angle":25.5,"logI":2.02},{"series":"10%","angle":26,"logI":2.0},{"series":"10%","angle":26.5,"logI":1.99},{"series":"10%","angle":27,"logI":1.96},{"series":"10%","angle":27.5,"logI":1.94},{"series":"10%","angle":28,"logI":1.92},{"series":"10%","angle":28.2,"logI":1.94},{"series":"10%","angle":28.4,"logI":1.9},{"series":"10%","angle":28.8,"logI":1.89},{"series":"10%","angle":29.3,"logI":1.87},{"series":"10%","angle":29.8,"logI":1.85},{"series":"10%","angle":30.3,"logI":1.84},{"series":"10%","angle":30.8,"logI":1.82},{"series":"10%","angle":31.3,"logI":1.81},{"series":"10%","angle":31.8,"logI":1.82},{"series":"10%","angle":32.1,"logI":1.79},{"series":"10%","angle":32.5,"logI":1.76},{"series":"10%","angle":32.85,"logI":1.78},{"series":"10%","angle":33,"logI":1.96},{"series":"10%","angle":33.15,"logI":1.77},{"series":"10%","angle":33.5,"logI":1.76},{"series":"10%","angle":34,"logI":1.78},{"series":"10%","angle":34.5,"logI":1.82},{"series":"10%","angle":35,"logI":1.87},{"series":"10%","angle":35.4,"logI":1.93},{"series":"10%","angle":35.75,"logI":2.05},{"series":"10%","angle":35.9,"logI":2.28},{"series":"10%","angle":36,"logI":2.52},{"series":"10%","angle":36.12,"logI":2.22},{"series":"10%","angle":36.3,"logI":2.01},{"series":"10%","angle":36.6,"logI":1.96},{"series":"10%","angle":36.9,"logI":1.94},{"series":"10%","angle":37.2,"logI":1.98},{"series":"10%","angle":37.5,"logI":1.94},{"series":"10%","angle":37.9,"logI":1.96},{"series":"10%","angle":38.2,"logI":2.08},{"series":"10%","angle":38.4,"logI":2.32},{"series":"10%","angle":38.65,"logI":2.65},{"series":"10%","angle":39.05,"logI":2.77},{"series":"10%","angle":39.3,"logI":2.94},{"series":"10%","angle":39.5,"logI":3.23},{"series":"10%","angle":39.7,"logI":3.98},{"series":"10%","angle":39.85,"logI":4.62},{"series":"10%","angle":39.95,"logI":4.98},{"series":"10%","angle":40.08,"logI":4.66},{"series":"10%","angle":40.25,"logI":4.06},{"series":"10%","angle":40.5,"logI":3.66},{"series":"10%","angle":40.9,"logI":3.09},{"series":"10%","angle":41.4,"logI":2.67},{"series":"10%","angle":41.9,"logI":2.45},{"series":"10%","angle":42.3,"logI":2.33},{"series":"10%","angle":42.8,"logI":2.27},{"series":"10%","angle":43.15,"logI":2.28},{"series":"10%","angle":43.27,"logI":2.39},{"series":"10%","angle":43.39,"logI":2.55},{"series":"10%","angle":43.52,"logI":2.36},{"series":"10%","angle":43.75,"logI":2.22},{"series":"10%","angle":44,"logI":2.25},{"series":"10%","angle":44.4,"logI":2.37},{"series":"10%","angle":44.8,"logI":2.52},{"series":"10%","angle":45.07,"logI":2.65},{"series":"10%","angle":45.3,"logI":2.52},{"series":"10%","angle":45.6,"logI":2.18},{"series":"10%","angle":46,"logI":2.1},{"series":"10%","angle":46.8,"logI":2.05},{"series":"10%","angle":47.5,"logI":1.98},{"series":"10%","angle":48.1,"logI":1.92},{"series":"10%","angle":48.7,"logI":1.87},{"series":"10%","angle":49.3,"logI":1.82},{"series":"10%","angle":49.8,"logI":1.77},{"series":"10%","angle":50,"logI":1.84},{"series":"10%","angle":50.2,"logI":1.75},{"series":"10%","angle":50.5,"logI":1.7},{"series":"10%","angle":51,"logI":1.64},{"series":"10%","angle":51.5,"logI":1.6},{"series":"10%","angle":52,"logI":1.58},{"series":"10%","angle":52.5,"logI":1.55},{"series":"10%","angle":53,"logI":1.52},{"series":"10%","angle":53.5,"logI":1.49},{"series":"10%","angle":54,"logI":1.46},{"series":"10%","angle":54.5,"logI":1.44},{"series":"10%","angle":55,"logI":1.42},{"series":"10%","angle":55.35,"logI":1.4},{"series":"10%","angle":55.55,"logI":1.69},{"series":"10%","angle":55.75,"logI":1.45},{"series":"10%","angle":56,"logI":1.39},{"series":"10%","angle":56.5,"logI":1.35},{"series":"10%","angle":57,"logI":1.29},{"series":"10%","angle":57.5,"logI":1.26},{"series":"10%","angle":58,"logI":1.23},{"series":"10%","angle":58.5,"logI":1.2},{"series":"10%","angle":59,"logI":1.18},{"series":"10%","angle":59.5,"logI":1.19},{"series":"10%","angle":60,"logI":1.24},{"series":"10%","angle":60.5,"logI":1.31},{"series":"10%","angle":61,"logI":1.35},{"series":"10%","angle":61.4,"logI":1.39},{"series":"10%","angle":61.6,"logI":1.53},{"series":"10%","angle":61.7,"logI":2.05},{"series":"10%","angle":61.8,"logI":1.53},{"series":"10%","angle":62,"logI":1.36},{"series":"10%","angle":62.4,"logI":1.15},{"series":"10%","angle":63,"logI":1.14},{"series":"10%","angle":63.5,"logI":1.13},{"series":"10%","angle":64,"logI":1.12},{"series":"10%","angle":64.5,"logI":1.13},{"series":"10%","angle":65,"logI":1.13},{"series":"10%","angle":65.5,"logI":1.14},{"series":"10%","angle":66,"logI":1.16},{"series":"10%","angle":66.3,"logI":1.18},{"series":"10%","angle":66.45,"logI":1.68},{"series":"10%","angle":67,"logI":1.75},{"series":"10%","angle":67.5,"logI":1.8},{"series":"10%","angle":67.8,"logI":1.87},{"series":"10%","angle":68,"logI":1.85},{"series":"10%","angle":68.3,"logI":1.96},{"series":"10%","angle":68.6,"logI":2.24},{"series":"10%","angle":68.85,"logI":2.66},{"series":"10%","angle":69,"logI":3.18},{"series":"10%","angle":69.08,"logI":4.0},{"series":"10%","angle":69.15,"logI":4.62},{"series":"10%","angle":69.22,"logI":3.85},{"series":"10%","angle":69.33,"logI":4.33},{"series":"10%","angle":69.42,"logI":3.66},{"series":"10%","angle":69.55,"logI":2.86},{"series":"10%","angle":69.75,"logI":2.27},{"series":"10%","angle":70,"logI":2.05},{"series":"10%","angle":70.5,"logI":1.79},{"series":"10%","angle":71,"logI":1.67},{"series":"10%","angle":71.5,"logI":1.61},{"series":"10%","angle":72,"logI":1.55},{"series":"10%","angle":72.5,"logI":1.52},{"series":"10%","angle":73,"logI":1.48},{"series":"10%","angle":73.5,"logI":1.45},{"series":"10%","angle":74,"logI":1.42},{"series":"10%","angle":74.5,"logI":1.4},{"series":"10%","angle":75,"logI":1.39},{"series":"10%","angle":75.4,"logI":1.39},{"series":"10%","angle":75.5,"logI":1.98},{"series":"10%","angle":75.62,"logI":1.68},{"series":"10%","angle":75.8,"logI":1.53},{"series":"10%","angle":76.1,"logI":1.58},{"series":"10%","angle":76.4,"logI":1.52},{"series":"10%","angle":76.8,"logI":1.43},{"series":"10%","angle":77.5,"logI":1.37},{"series":"10%","angle":78,"logI":1.33},{"series":"10%","angle":78.5,"logI":1.3},{"series":"10%","angle":79,"logI":1.26},{"series":"10%","angle":79.5,"logI":1.24},{"series":"10%","angle":80,"logI":1.22},{"series":"10%","angle":80.5,"logI":1.23},{"series":"10%","angle":81,"logI":1.22},{"series":"10%","angle":81.5,"logI":1.26},{"series":"10%","angle":82,"logI":1.33},{"series":"10%","angle":82.4,"logI":1.43},{"series":"10%","angle":82.8,"logI":1.48},{"series":"10%","angle":83.3,"logI":1.51},{"series":"10%","angle":83.8,"logI":1.54},{"series":"10%","angle":84.3,"logI":1.57},{"series":"10%","angle":84.8,"logI":1.68},{"series":"10%","angle":85.2,"logI":1.89},{"series":"10%","angle":85.5,"logI":2.22},{"series":"10%","angle":85.75,"logI":2.93},{"series":"10%","angle":85.95,"logI":3.32},{"series":"10%","angle":86.06,"logI":3.51},{"series":"10%","angle":86.3,"logI":3.3},{"series":"10%","angle":86.5,"logI":2.96},{"series":"10%","angle":86.7,"logI":2.67},{"series":"10%","angle":87,"logI":2.22},{"series":"10%","angle":87.33,"logI":1.85},{"series":"10%","angle":87.7,"logI":1.63},{"series":"10%","angle":88.1,"logI":1.5},{"series":"10%","angle":88.6,"logI":1.4},{"series":"10%","angle":89.2,"logI":1.32},{"series":"10%","angle":89.7,"logI":1.25},{"series":"10%","angle":90,"logI":1.25}
]},
"encoding":{
"x":{"field":"angle","type":"quantitative","title":"Two Theta (degrees)",
"scale":{"domain":[10,90],"nice":false,"zero":false},
"axis":{"values":[10,15,20,25,30,35,40,45,50,55,60,65,70,75,80,85,90],"labelExpr":"datum.value % 10 == 0 ? datum.label : ''","labelFlush":false,"labelOverlap":false,"labelFontSize":31,"labelFont":"Lato","labelPadding":3,"titleFontSize":46,"titleFont":"Lato","titlePadding":11,"domainColor":"#222","domainWidth":1.5,"tickColor":"#222","tickWidth":1.5,"tickSize":{"condition":{"test":"datum.value % 10 == 0","value":9},"value":7}}},
"y":{"field":"logI","type":"quantitative","title":"Log Intensity (a.u.)",
"scale":{"domain":[0.583,10],"nice":false,"zero":false},
"axis":{"values":[0.60206,0.69897,0.77815,0.8451,0.90309,0.95424,1,1.30103,1.47712,1.60206,1.69897,1.77815,1.8451,1.90309,1.95424,2,2.30103,2.47712,2.60206,2.69897,2.77815,2.8451,2.90309,2.95424,3,3.30103,3.47712,3.60206,3.69897,3.77815,3.8451,3.90309,3.95424,4,4.30103,4.47712,4.60206,4.69897,4.77815,4.8451,4.90309,4.95424,5,5.30103,5.47712,5.60206,5.69897,5.77815,5.8451,5.90309,5.95424,6,6.30103,6.47712,6.60206,6.69897,6.77815,6.8451,6.90309,6.95424,7,7.30103,7.47712,7.60206,7.69897,7.77815,7.8451,7.90309,7.95424,8,8.30103,8.47712,8.60206,8.69897,8.77815,8.8451,8.90309,8.95424,9,9.30103,9.47712,9.60206,9.69897,9.77815,9.8451,9.90309,9.95424,10],
"labels":false,"titleFontSize":52,"titleFont":"Lato","titleAngle":270,"titleAlign":"center","titleBaseline":"middle","titleX":-36,"titleY":305,
"domainColor":"#444","domainWidth":1.5,"tickColor":"#222","tickWidth":1.5,"tickSize":{"condition":{"test":"datum.value == round(datum.value)","value":12},"value":6}}}
},
"layer":[
{"data":{"name":"xrd"},"mark":{"type":"line","strokeWidth":1},
"encoding":{"color":{"field":"series","type":"nominal","scale":{"domain":["16%","14%","12%","10%"],"range":["#ff0000","#008000","#0000ff","#000000"]},
"legend":{"title":null,"orient":"none","legendX":882,"legendY":-75,"padding":0,"symbolType":"M-1.5,0H1.5","symbolSize":3600,"symbolStrokeWidth":1.5,"labelFontSize":34,"labelFont":"Lato","labelColor":"black","labelOffset":22,"rowPadding":2}}}},
{"data":{"name":"peaks"},"mark":{"type":"text","angle":270,"align":"left","baseline":"middle","fontSize":28,"font":"Lato"},
"encoding":{"text":{"field":"label"},"fill":{"field":"phase","type":"nominal","scale":{"domain":["PZT","Pt","Si"],"range":["#000000","#0000ff","#008000"]},"legend":null}}},
{"data":{"name":"stars"},"mark":{"type":"text","align":"center","baseline":"alphabetic","dy":23,"fontSize":40,"font":"Lato","color":"black"},
"encoding":{"text":{"field":"label"}}},
{"data":{"name":"note"},"mark":{"type":"text","align":"left","baseline":"middle","fontSize":25.6,"font":"Lato","color":"black"},
"encoding":{"text":{"field":"label"}}}
]
}
